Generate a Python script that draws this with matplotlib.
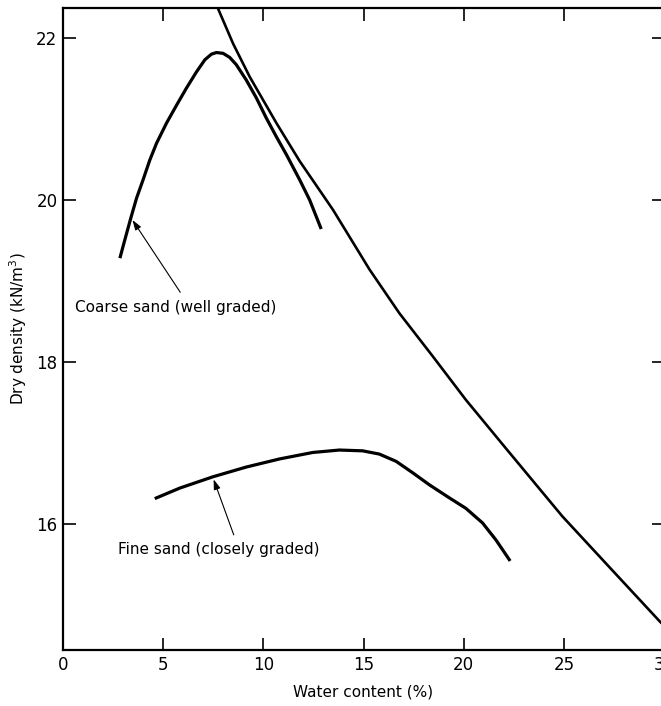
import matplotlib
matplotlib.use("Agg")
import matplotlib.pyplot as plt

# compaction curves (water content %, dry density kN/m3)
coarse_w = [2.84, 3.09, 3.39, 3.67, 4.00, 4.33, 4.67, 5.17, 5.67, 6.16, 6.66, 7.08, 7.41, 7.66,
            7.99, 8.32, 8.65, 9.15, 9.65, 10.15, 10.65, 11.15, 11.81, 12.31, 12.89]
coarse_d = [19.28, 19.51, 19.78, 20.02, 20.25, 20.49, 20.70, 20.95, 21.17, 21.38, 21.58, 21.73, 21.80, 21.82,
            21.81, 21.76, 21.67, 21.48, 21.26, 21.01, 20.78, 20.56, 20.25, 20.00, 19.64]

fine_w = [4.58, 5.83, 7.49, 9.15, 10.81, 12.47, 13.80, 14.96, 15.79, 16.63, 17.45, 18.29,
          19.28, 20.11, 20.94, 21.61, 22.32]
fine_d = [16.31, 16.44, 16.58, 16.70, 16.80, 16.88, 16.91, 16.90, 16.86, 16.77, 16.63, 16.48,
          16.32, 16.19, 16.01, 15.80, 15.54]

# zero air voids line
zav_w = [7.50, 8.49, 9.32, 10.65, 11.81, 13.47, 15.30, 16.79, 18.45, 20.11, 22.11, 24.93, 27.25, 29.80, 30.5]
zav_d = [22.50, 21.93, 21.52, 20.95, 20.48, 19.88, 19.14, 18.60, 18.07, 17.53, 16.93, 16.09, 15.47, 14.79, 14.62]

x_ticks = [0, 5, 10, 15, 20, 25, 30]
y_ticks = [16, 18, 20, 22]

fig = plt.figure(figsize=(6.61, 7.06), dpi=100)
ax = fig.add_axes([63 / 661, 56 / 706, 601 / 661, 642 / 706])

ax.plot(coarse_w, coarse_d, color="black", lw=2.3, solid_capstyle="butt", solid_joinstyle="round")
ax.plot(fine_w, fine_d, color="black", lw=2.3, solid_capstyle="butt", solid_joinstyle="round")
ax.plot(zav_w, zav_d, color="black", lw=1.9, solid_joinstyle="round")

ax.set_xlim(0, 30)
ax.set_ylim(14.44, 22.37)
ax.set_xticks(x_ticks)
ax.set_yticks(y_ticks)
ax.tick_params(direction="in", length=9, width=1.2, top=True, right=True,
               labelsize=12, pad=4)
for s in ax.spines.values():
    s.set_linewidth(1.6)

ax.set_xlabel("Water content (%)", fontsize=11, labelpad=8)
ax.set_ylabel("Dry density (kN/m$^3$)", fontsize=11, labelpad=5)

arrow = dict(arrowstyle="-|>,head_length=0.6,head_width=0.2", color="black", lw=0.8)
ax.annotate("", xy=(3.39, 19.78), xytext=(5.93, 18.83), arrowprops=arrow)
ax.text(0.6, 18.67, "Coarse sand (well graded)", fontsize=11, va="center", ha="left")
ax.annotate("", xy=(7.47, 16.58), xytext=(8.57, 15.83), arrowprops=arrow)
ax.text(2.74, 15.68, "Fine sand (closely graded)", fontsize=11, va="center", ha="left")

fig.savefig("out.png", dpi=100)
